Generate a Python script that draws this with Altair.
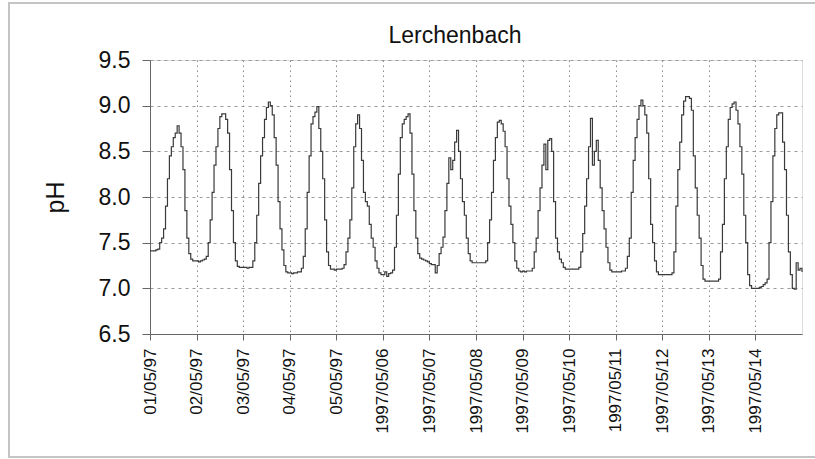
import altair as alt
import pandas as pd

# hourly pH readings (00h..23h) for each day
may01 = [7.41, 7.41, 7.41, 7.42, 7.43, 7.50, 7.55, 7.65, 7.90, 8.20, 8.45, 8.55,
         8.65, 8.70, 8.78, 8.70, 8.55, 8.30, 7.85, 7.55, 7.38, 7.32, 7.30, 7.30]
may02 = [7.30, 7.29, 7.30, 7.31, 7.32, 7.35, 7.50, 7.75, 8.05, 8.35, 8.55, 8.75,
         8.88, 8.91, 8.91, 8.85, 8.70, 8.30, 7.85, 7.50, 7.30, 7.24, 7.23, 7.23]
may03 = [7.23, 7.23, 7.22, 7.23, 7.23, 7.30, 7.50, 7.80, 8.15, 8.45, 8.65, 8.85,
         8.98, 9.04, 9.00, 8.90, 8.65, 8.35, 7.95, 7.65, 7.42, 7.25, 7.18, 7.17]
may04 = [7.17, 7.16, 7.17, 7.17, 7.18, 7.18, 7.22, 7.35, 7.65, 8.05, 8.45, 8.80,
         8.88, 8.93, 8.99, 8.75, 8.50, 8.20, 7.75, 7.40, 7.25, 7.21, 7.21, 7.20]
may05 = [7.21, 7.21, 7.21, 7.22, 7.26, 7.40, 7.55, 7.75, 8.10, 8.55, 8.80, 8.90,
         8.75, 8.40, 8.05, 7.95, 7.90, 7.70, 7.55, 7.45, 7.30, 7.22, 7.17, 7.15]
may06 = [7.15, 7.18, 7.13, 7.16, 7.17, 7.20, 7.45, 7.80, 8.25, 8.65, 8.80, 8.85,
         8.88, 8.91, 8.70, 8.25, 7.85, 7.55, 7.38, 7.33, 7.32, 7.31, 7.30, 7.29]
may07 = [7.27, 7.26, 7.26, 7.17, 7.25, 7.38, 7.45, 7.56, 7.85, 8.15, 8.43, 8.30,
         8.40, 8.60, 8.73, 8.50, 8.20, 7.95, 7.80, 7.55, 7.38, 7.30, 7.28, 7.28]
may08 = [7.28, 7.28, 7.28, 7.28, 7.28, 7.30, 7.50, 7.75, 8.05, 8.40, 8.65, 8.82,
         8.84, 8.80, 8.72, 8.55, 8.20, 7.90, 7.70, 7.50, 7.30, 7.22, 7.19, 7.18]
may09 = [7.19, 7.18, 7.19, 7.19, 7.19, 7.22, 7.40, 7.55, 7.85, 8.10, 8.35, 8.58,
         8.30, 8.62, 8.64, 8.50, 7.95, 7.55, 7.40, 7.32, 7.28, 7.23, 7.21, 7.21]
may10 = [7.21, 7.21, 7.21, 7.21, 7.21, 7.23, 7.40, 7.60, 7.90, 8.20, 8.55, 8.86,
         8.35, 8.50, 8.62, 8.40, 8.10, 7.85, 7.65, 7.45, 7.28, 7.20, 7.18, 7.18]
may11 = [7.18, 7.18, 7.18, 7.19, 7.19, 7.22, 7.35, 7.55, 8.05, 8.40, 8.65, 8.85,
         9.00, 9.06, 9.00, 8.90, 8.70, 8.20, 7.70, 7.50, 7.30, 7.18, 7.15, 7.15]
may12 = [7.15, 7.15, 7.15, 7.15, 7.15, 7.17, 7.40, 7.90, 8.30, 8.60, 8.90, 9.05,
         9.10, 9.10, 9.08, 8.95, 8.45, 8.10, 7.80, 7.55, 7.25, 7.10, 7.08, 7.08]
may13 = [7.08, 7.08, 7.08, 7.08, 7.08, 7.10, 7.40, 7.70, 8.20, 8.55, 8.85, 8.98,
         9.02, 9.04, 8.95, 8.80, 8.55, 8.25, 7.80, 7.50, 7.15, 7.03, 7.00, 7.00]
may14 = [7.00, 7.00, 7.01, 7.02, 7.04, 7.06, 7.10, 7.50, 7.95, 8.45, 8.75, 8.90,
         8.92, 8.92, 8.60, 8.30, 7.80, 7.40, 7.15, 7.00, 6.99, 7.28, 7.20, 7.22]
final_value = [7.18]

day_labels = ["01/05/97", "02/05/97", "03/05/97", "04/05/97", "05/05/97",
              "1997/05/06", "1997/05/07", "1997/05/08", "1997/05/09", "1997/05/10",
              "1997/05/11", "1997/05/12", "1997/05/13", "1997/05/14"]
y_ticks = [6.5, 7.0, 7.5, 8.0, 8.5, 9.0, 9.5]
title_text = "Lerchenbach"

ph = (may01 + may02 + may03 + may04 + may05 + may06 + may07 + may08 + may09
      + may10 + may11 + may12 + may13 + may14 + final_value)
df = pd.DataFrame({"hour": list(range(len(ph))), "pH": ph})

label_expr = "[" + ",".join("'%s'" % s for s in day_labels) + "][round(datum.value/24)]"
day_ticks = [24 * i for i in range(len(day_labels))]

FONT = "Liberation Sans"

line = alt.Chart(df).mark_line(
    interpolate="step-after", color="#3a3a3a", strokeWidth=1.2
).encode(
    x=alt.X("hour:Q",
            scale=alt.Scale(domain=[0, 24 * len(day_labels)], nice=False, zero=False),
            axis=alt.Axis(values=day_ticks, labelExpr=label_expr, labelAngle=-90,
                          title=None, grid=True, gridDash=[1.5, 3.5], gridColor="#888",
                          gridWidth=1, tickSize=6, tickColor="#666", domainColor="#666",
                          labelFontSize=17, labelFont=FONT, labelColor="#111",
                          labelPadding=8, labelOverlap=False)),
    y=alt.Y("pH:Q",
            scale=alt.Scale(domain=[6.5, 9.5], nice=False, zero=False),
            axis=alt.Axis(values=y_ticks, format=".1f", title="pH",
                          titleFontSize=25, titleFont=FONT, titleFontWeight="normal",
                          titleColor="#111", titlePadding=30,
                          grid=True, gridDash=[3, 4], gridColor="#999", gridWidth=1,
                          tickSize=8, tickColor="#666", domainColor="#666",
                          labelFontSize=23, labelFont=FONT, labelColor="#111",
                          labelPadding=12))
)

frame = alt.Chart(alt.Data(values=[{"f": 1}])).mark_rect(
    fillOpacity=0, stroke="#c4c4c4", strokeWidth=2
).encode(
    x=alt.value(-141), x2=alt.value(675), y=alt.value(-57), y2=alt.value(397)
)

title = alt.Chart(alt.Data(values=[{"t": title_text}])).mark_text(
    font=FONT, fontSize=23, color="#111", align="center", baseline="alphabetic"
).encode(
    text="t:N", x=alt.value(305), y=alt.value(-17)
)

chart = alt.layer(frame, line, title).properties(
    width=652, height=274,
    autosize=alt.AutoSizeParams(type="none"),
    padding={"left": 150, "top": 60, "right": 13, "bottom": 125},
).configure_view(stroke="#666", strokeWidth=1.3).configure(background="white")

chart.save("out.html", embed_options={"renderer": "svg", "actions": False})
